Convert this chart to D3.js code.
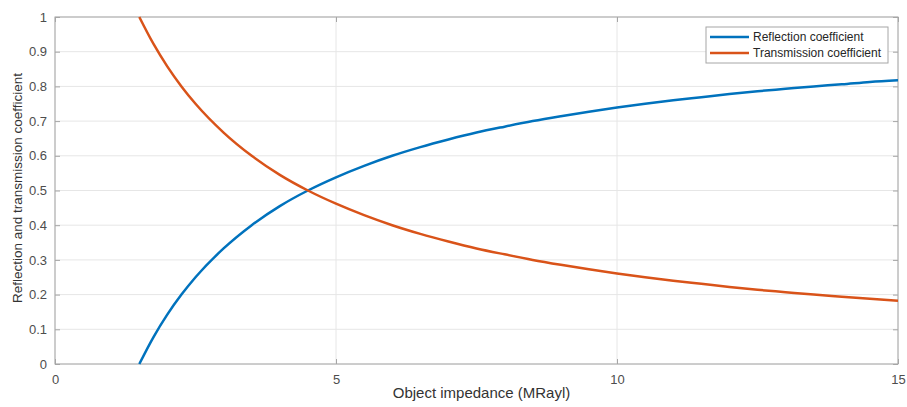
<!DOCTYPE html>
<html>
<head>
<meta charset="utf-8">
<script src="https://cdn.jsdelivr.net/npm/d3@7"></script>
<style>
  body { margin: 0; background: #fff; }
  svg { font-family: "Liberation Sans", Arial, sans-serif; }
</style>
</head>
<body>
<div id="chart"></div>
<script>
// impedance values (MRayl)
var impedance = [1.5, 1.75, 2, 2.25, 2.5, 3, 3.5, 4, 4.5, 5, 5.5, 6, 6.5, 7, 7.5, 8,
  8.5, 9, 9.5, 10, 10.5, 11, 11.5, 12, 12.5, 13, 13.5, 14, 14.5, 15];
var reflection = [0, 0.077, 0.143, 0.2, 0.25, 0.333, 0.4, 0.455, 0.5, 0.538, 0.571, 0.6,
  0.625, 0.647, 0.667, 0.684, 0.7, 0.714, 0.727, 0.739, 0.75, 0.76, 0.769, 0.778,
  0.786, 0.793, 0.8, 0.806, 0.813, 0.818];
var transmission = [1, 0.923, 0.857, 0.8, 0.75, 0.667, 0.6, 0.545, 0.5, 0.462, 0.429, 0.4,
  0.375, 0.353, 0.333, 0.316, 0.3, 0.286, 0.273, 0.261, 0.25, 0.24, 0.231, 0.222,
  0.214, 0.207, 0.2, 0.194, 0.188, 0.182];
var xTicks = [0, 5, 10, 15];
var yTicks = [0, 0.1, 0.2, 0.3, 0.4, 0.5, 0.6, 0.7, 0.8, 0.9, 1];
var seriesNames = ["Reflection coefficient", "Transmission coefficient"];
var seriesColors = ["#0072BD", "#D95319"];

var width = 907, height = 407;
var margin = {top: 17, right: 9, bottom: 43, left: 55};
var w = width - margin.left - margin.right,
    h = height - margin.top - margin.bottom;

var svg = d3.select("#chart").append("svg")
    .attr("width", width)
    .attr("height", height);

var g = svg.append("g").attr("transform", "translate(" + margin.left + "," + margin.top + ")");

var x = d3.scaleLinear().domain([0, 15]).range([0, w]);
var y = d3.scaleLinear().domain([0, 1]).range([h, 0]);

// grid
g.append("g").selectAll("line").data(xTicks).enter().append("line")
    .attr("x1", x).attr("x2", x).attr("y1", 0).attr("y2", h)
    .attr("stroke", "#e6e6e6").attr("stroke-width", 1);
g.append("g").selectAll("line").data(yTicks).enter().append("line")
    .attr("y1", y).attr("y2", y).attr("x1", 0).attr("x2", w)
    .attr("stroke", "#e6e6e6").attr("stroke-width", 1);

// axes (MATLAB style, ticks pointing in, box on)
var axisColor = "#a6a6a6", textColor = "#4d4d4d";
function styleAxis(sel) {
    sel.select(".domain").remove();
    sel.selectAll(".tick line").attr("stroke", axisColor);
    sel.selectAll(".tick text").attr("fill", textColor).style("font-size", "13px");
}
g.append("g").attr("transform", "translate(0," + h + ")")
    .call(d3.axisBottom(x).tickValues(xTicks).tickSizeInner(-5).tickSizeOuter(0).tickPadding(11))
    .call(styleAxis);
g.append("g")
    .call(d3.axisLeft(y).tickValues(yTicks).tickFormat(d3.format("~g")).tickSizeInner(-5).tickSizeOuter(0).tickPadding(8))
    .call(styleAxis);
g.append("g").attr("transform", "translate(0,0)")
    .call(d3.axisTop(x).tickValues(xTicks).tickSizeInner(-5).tickSizeOuter(0).tickFormat(""))
    .call(styleAxis);
g.append("g").attr("transform", "translate(" + w + ",0)")
    .call(d3.axisRight(y).tickValues(yTicks).tickSizeInner(-5).tickSizeOuter(0).tickFormat(""))
    .call(styleAxis);
g.append("rect").attr("width", w).attr("height", h)
    .attr("fill", "none").attr("stroke", axisColor).attr("stroke-width", 1);

// curves
var series = [reflection, transmission];
var line = d3.line()
    .x(function(d, i) { return x(impedance[i]); })
    .y(function(d) { return y(d); })
    .curve(d3.curveMonotoneX);
var clip = svg.append("clipPath").attr("id", "clip").append("rect")
    .attr("width", w).attr("height", h + 2).attr("y", -1);
g.append("g").attr("clip-path", "url(#clip)").selectAll("path").data(series).enter().append("path")
    .attr("d", line)
    .attr("fill", "none")
    .attr("stroke", function(d, i) { return seriesColors[i]; })
    .attr("stroke-width", 2.5);

// labels
svg.append("text")
    .attr("x", margin.left + w / 2 + 5).attr("y", height - 9)
    .attr("text-anchor", "middle").attr("fill", "#333").style("font-size", "15px")
    .text("Object impedance (MRayl)");
svg.append("text")
    .attr("transform", "translate(22,188) rotate(-90)")
    .attr("text-anchor", "middle").attr("fill", "#333").style("font-size", "13.5px")
    .text("Reflection and transmission coefficient");

// legend
var lg = svg.append("g").attr("transform", "translate(706,27)");
lg.append("rect").attr("width", 182).attr("height", 36)
    .attr("fill", "#fff").attr("stroke", "#a6a6a6");
seriesNames.forEach(function(name, i) {
    var yy = 10 + i * 16;
    lg.append("line").attr("x1", 4).attr("x2", 43).attr("y1", yy).attr("y2", yy)
        .attr("stroke", seriesColors[i]).attr("stroke-width", 2.5);
    lg.append("text").attr("x", 47).attr("y", yy + 4)
        .attr("fill", "#262626").style("font-size", "12px").text(name);
});
</script>
</body>
</html>
